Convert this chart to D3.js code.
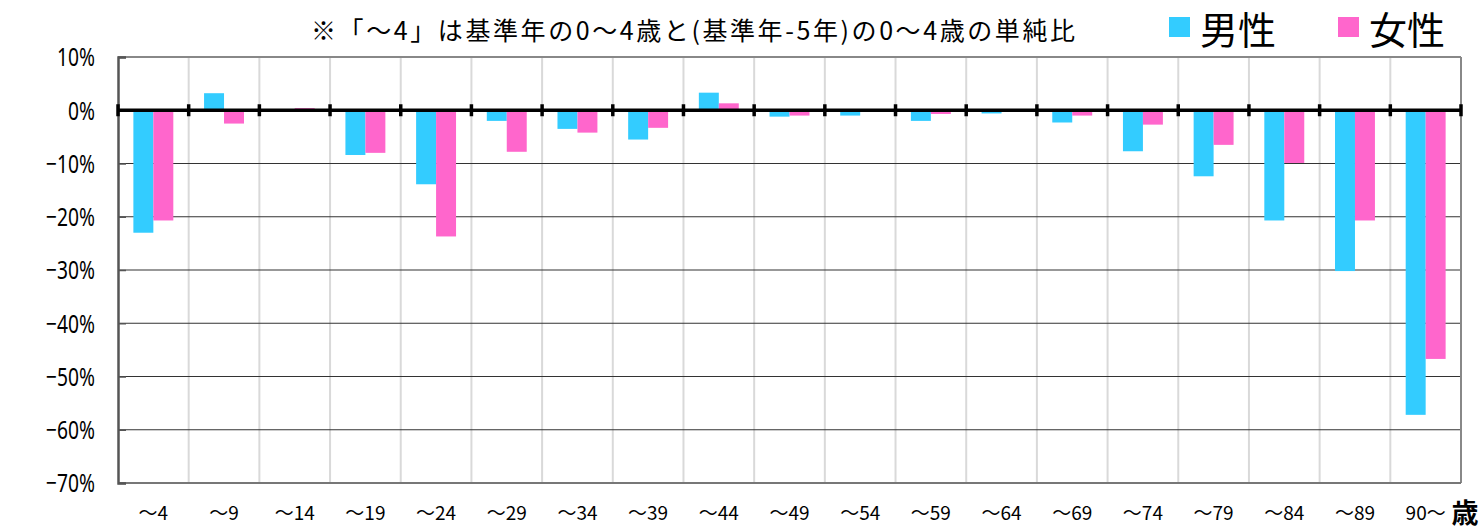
<!DOCTYPE html>
<html>
<head>
<meta charset="utf-8">
<script src="https://cdn.jsdelivr.net/npm/d3@7"></script>
<style>
  html, body { margin: 0; padding: 0; background: #fff; }
  svg { display: block; font-family: "Noto Sans CJK JP", "Noto Sans", sans-serif; }
</style>
</head>
<body>
<svg id="chart" width="1483" height="531"></svg>
<script>
// Age groups (5-year cohorts)
const categories = ["～4","～9","～14","～19","～24","～29","～34","～39","～44","～49",
                    "～54","～59","～64","～69","～74","～79","～84","～89","90～"];
// Change rate (%) by sex
const maleValues   = [-23.0, 3.2, 0.0, -8.4, -13.9, -2.0, -3.5, -5.5, 3.3, -1.2,
                      -1.0, -2.0, -0.6, -2.3, -7.7, -12.4, -20.7, -30.2, -57.2];
const femaleValues = [-20.7, -2.5, 0.4, -8.0, -23.7, -7.8, -4.2, -3.3, 1.3, -1.0,
                      -0.1, -0.7, -0.1, -1.0, -2.7, -6.5, -9.9, -20.7, -46.7];
const yTicks = [10, 0, -10, -20, -30, -40, -50, -60, -70];
const seriesNames = ["男性", "女性"];
const colors = ["#33ccff", "#ff66cc"];
const titleText = "※「～4」は基準年の0～4歳と(基準年-5年)の0～4歳の単純比";
const unitLabel = "歳";

const svg = d3.select("#chart");
const m = { left: 118, right: 1461, top: 57, bottom: 483 };

const x = d3.scaleBand().domain(categories).range([m.left, m.right]).paddingInner(0).paddingOuter(0);
const y = d3.scaleLinear().domain([-70, 10]).range([m.bottom, m.top]);
const inner = d3.scaleBand().domain([0, 1]).range([0, x.bandwidth()]).paddingInner(0).paddingOuter(0.77);

// vertical gridlines at category boundaries
svg.append("g").selectAll("line")
  .data(categories.slice(1))
  .join("line")
  .attr("x1", d => x(d)).attr("x2", d => x(d))
  .attr("y1", m.top).attr("y2", m.bottom)
  .attr("stroke", "#d9d9d9").attr("stroke-width", 2);

// horizontal gridlines
svg.append("g").selectAll("line")
  .data(yTicks.filter(v => v < 0 && v > -70))
  .join("line")
  .attr("x1", m.left).attr("x2", m.right)
  .attr("y1", d => y(d)).attr("y2", d => y(d))
  .attr("stroke", "#333").attr("stroke-width", 1.2);

// bars
const series = [maleValues, femaleValues];
series.forEach((vals, si) => {
  svg.append("g").selectAll("rect")
    .data(vals.map((v, i) => ({ c: categories[i], v })))
    .join("rect")
    .attr("x", d => x(d.c) + inner(si))
    .attr("width", inner.bandwidth())
    .attr("y", d => y(Math.max(0, d.v)))
    .attr("height", d => Math.abs(y(d.v) - y(0)))
    .attr("fill", colors[si]);
});

// plot frame: top, right, bottom
svg.append("line").attr("x1", m.left).attr("x2", m.right).attr("y1", m.top).attr("y2", m.top)
  .attr("stroke", "#888").attr("stroke-width", 2);
svg.append("line").attr("x1", m.right).attr("x2", m.right).attr("y1", m.top).attr("y2", m.bottom)
  .attr("stroke", "#888").attr("stroke-width", 2);
svg.append("line").attr("x1", m.left).attr("x2", m.right).attr("y1", m.bottom).attr("y2", m.bottom)
  .attr("stroke", "#777").attr("stroke-width", 2);

// y axis (line + inner ticks)
const yAxis = d3.axisLeft(y).tickValues(yTicks).tickSize(-8).tickFormat("");
const ya = svg.append("g").attr("transform", `translate(${m.left},0)`).call(yAxis);
ya.select(".domain").attr("stroke", "#555").attr("stroke-width", 2.5);
ya.selectAll(".tick line").attr("stroke", "#555").attr("stroke-width", 1.5);

// y tick labels in a tall, narrow face
svg.append("g").selectAll("text")
  .data(yTicks)
  .join("text")
  .attr("transform", d => `translate(95,${y(d)}) scale(0.74,1)`)
  .attr("text-anchor", "end")
  .attr("dy", "0.36em")
  .attr("font-family", "'Noto Sans', sans-serif")
  .attr("font-size", 26)
  .attr("fill", "#000")
  .text(d => (d < 0 ? "−" + Math.abs(d) : d) + "%");

// zero line with category tick marks
svg.append("line").attr("x1", m.left).attr("x2", m.right).attr("y1", y(0)).attr("y2", y(0))
  .attr("stroke", "#000").attr("stroke-width", 3.5);
svg.append("g").selectAll("line")
  .data(categories.map(c => x(c)).concat([m.right]))
  .join("line")
  .attr("x1", d => d).attr("x2", d => d)
  .attr("y1", y(0) - 6).attr("y2", y(0) + 6)
  .attr("stroke", "#000").attr("stroke-width", 3.5);

// x labels
svg.append("g").selectAll("text")
  .data(categories)
  .join("text")
  .attr("x", d => x(d) + x.bandwidth() / 2)
  .attr("y", 520)
  .attr("text-anchor", "middle")
  .attr("font-size", 19)
  .attr("fill", "#000")
  .text(d => d);
svg.append("text").attr("x", 1465).attr("y", 523).attr("text-anchor", "middle")
  .attr("font-size", 27).attr("font-weight", "bold").attr("fill", "#000").text(unitLabel);

// title
svg.append("text").attr("x", 311).attr("y", 40)
  .attr("font-size", 25).attr("fill", "#000")
  .attr("textLength", 764).attr("lengthAdjust", "spacing")
  .text(titleText);

// legend
const legendX = [1169, 1338];
seriesNames.forEach((name, i) => {
  svg.append("rect").attr("x", legendX[i]).attr("y", 17).attr("width", 21).attr("height", 20)
    .attr("fill", colors[i]);
  svg.append("text").attr("x", legendX[i] + 31).attr("y", 44).attr("font-size", 38)
    .attr("fill", "#000").text(name);
});
</script>
</body>
</html>
